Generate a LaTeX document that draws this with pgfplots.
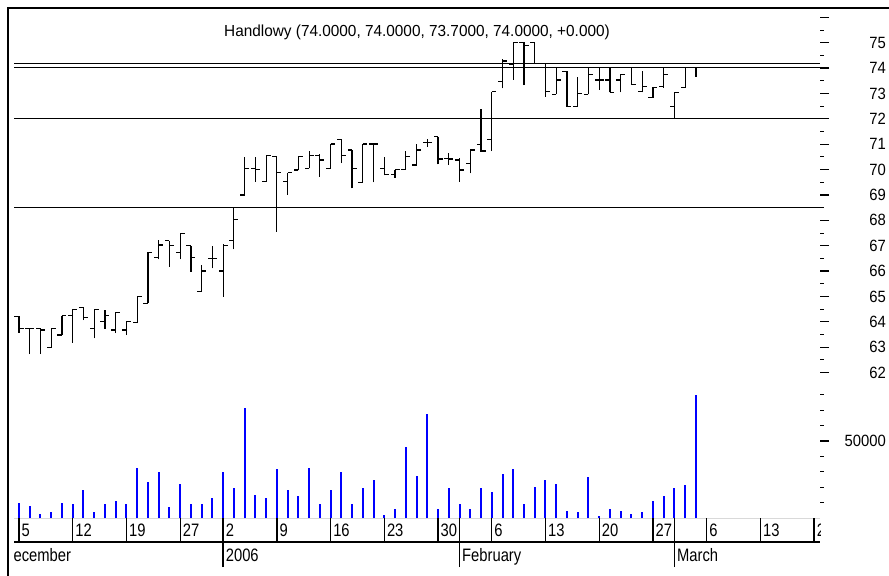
\documentclass[border=0pt]{standalone}
\usepackage{fontspec}
\setmainfont{Liberation Sans}
\newfontfamily\titlefont{Liberation Sans}[FakeStretch=0.96]
\newfontfamily\pricefont{Liberation Sans}[FakeStretch=0.91]
\newfontfamily\datefont{Liberation Sans}[FakeStretch=0.82]
\usepackage{pgfplots}
\pgfplotsset{compat=1.18}
\usepackage{pgfplotstable}

\pgfplotstableread{
i O H L C V
0 64.20 64.23 63.57 63.74 10000
1 63.74 63.74 62.73 63.74 7800
2 63.74 63.74 62.73 63.68 2800
3 62.98 63.74 62.98 63.74 3700
4 63.48 64.24 63.48 64.24 10000
5 64.24 64.50 63.18 64.50 8900
6 64.57 64.57 64.07 64.18 18200
7 63.74 64.50 63.35 64.50 3700
8 64.01 64.47 63.72 64.24 8900
9 63.68 64.37 63.55 64.37 11000
10 63.68 64.03 63.48 64.01 8900
11 63.97 64.99 63.95 64.99 32700
12 64.73 66.76 64.73 66.72 23400
13 66.54 67.22 66.46 67.03 29700
14 67.20 67.20 66.17 67.00 6900
15 66.74 67.49 66.46 67.49 22300
16 67.00 67.00 65.98 66.54 8900
17 65.19 66.24 65.19 66.00 8900
18 66.50 67.00 66.11 66.50 13000
19 66.00 67.07 64.99 67.00 29700
20 67.20 68.54 66.85 68.04 19300
21 69.00 70.51 69.00 70.05 71600
22 70.05 70.51 69.52 70.00 15200
23 69.52 70.55 69.52 70.55 13000
24 70.51 70.51 67.55 69.89 31600
25 69.52 69.88 69.00 69.88 18200
26 69.98 70.51 69.98 70.51 14100
27 70.05 70.73 70.05 70.55 32700
28 70.55 70.60 69.72 70.38 8900
29 70.05 71.01 70.05 71.01 18200
30 71.19 71.19 70.25 70.55 29700
31 70.77 70.77 69.26 70.05 8900
32 69.50 71.01 69.50 71.01 19300
33 71.01 71.01 69.50 71.01 24500
34 70.05 70.51 69.77 69.79 1700
35 69.79 70.00 69.68 70.00 5800
36 70.00 70.73 70.00 70.51 46100
37 70.18 71.01 70.18 70.77 27500
38 71.06 71.20 70.90 71.06 67700
39 71.30 71.30 70.20 70.42 5800
40 70.45 70.65 70.18 70.42 19300
41 70.38 70.44 69.52 69.98 8900
42 70.25 70.77 69.85 70.77 5800
43 70.99 72.39 70.70 70.73 19300
44 71.17 73.07 70.73 73.07 17100
45 73.46 74.36 73.20 74.28 28400
46 74.15 75.01 73.53 75.01 31600
47 75.01 75.01 73.33 74.88 8900
48 75.01 75.01 74.19 74.19 20300
49 74.19 74.19 72.87 73.07 24500
50 72.97 74.06 72.97 73.53 22300
51 73.88 73.88 72.48 72.48 4800
52 72.48 73.66 72.48 73.00 3700
53 72.97 74.02 72.97 73.75 26400
54 73.53 74.02 73.14 73.53 1100
55 73.53 74.02 73.04 73.04 5800
56 73.53 73.75 73.04 73.75 4800
57 74.02 74.02 73.36 73.36 2800
58 73.07 73.88 73.04 73.27 3700
59 72.83 73.27 72.83 73.23 11000
60 73.27 74.02 73.23 73.75 14100
61 72.50 73.04 71.99 73.04 19300
62 73.23 74.02 73.23 74.02 21400
63 74.02 74.02 73.66 74.02 80100
}\ohlc

\newcommand\pf{\pricefont\fontsize{16.3bp}{18bp}\selectfont}
\newcommand\df{\datefont\fontsize{18bp}{20bp}\selectfont}

\begin{document}
\begin{tikzpicture}
\path[use as bounding box] (0,0) rectangle (889bp,-576bp);
\pgfplotsset{
  common/.style={scale only axis, width=806bp, xmin=-0.4653, xmax=74.55},
  rticks/.style={
    hide x axis, axis y line*=right, y axis line style={draw=none},
    tick align=outside, major tick length=9bp, minor tick length=3.5bp,
    major tick style={black, line width=1.2bp},
    minor tick style={black, line width=0.9bp},
    yticklabel style={font=\pf, anchor=east, inner sep=0pt, xshift=57bp},
    scaled y ticks=false},
}
% price panel
\begin{axis}[common, rticks, at={(14bp,-380bp)}, anchor=south west, height=370bp,
  ymin=61.707, ymax=76.288,
  ytick={62,...,76},
  yticklabels={62,63,64,65,66,67,68,69,70,71,72,73,74,75,{}},
  minor ytick={62.5,63.5,...,75.5}]
\addplot[black, line width=1.1bp, mark=none] coordinates {(-0.4653,74.02) (74.55,74.02)};
\addplot[black, line width=1.1bp, mark=none] coordinates {(-0.4653,74.18) (74.55,74.18)};
\addplot[black, line width=1.1bp, mark=none] coordinates {(-0.4653,72.0) (74.55,72.0)};
\addplot[black, line width=1.1bp, mark=none] coordinates {(-0.4653,68.5) (74.55,68.5)};
\addplot[black, line width=1.2bp, mark=none, quiver={u=0, v=\thisrow{H}-\thisrow{L}}] table[x=i, y=L] {\ohlc};
\addplot[black, line width=1.2bp, mark=none, quiver={u=-0.42, v=0}] table[x=i, y=O] {\ohlc};
\addplot[black, line width=1.2bp, mark=none, quiver={u=0.42, v=0}] table[x=i, y=C] {\ohlc};
\end{axis}
% volume panel
\begin{axis}[common, rticks, at={(14bp,-518bp)}, anchor=south west, height=133bp,
  ymin=0, ymax=86364,
  ytick={50000}, yticklabels={50000},
  minor ytick={10000,20000,30000,40000,60000,70000,80000}]
\addplot[black!15, line width=0.8bp, mark=none] coordinates {(-0.4653,0) (74.55,0)};
\addplot[ycomb, blue, line width=2bp, mark=none] table[x=i, y=V] {\ohlc};
\end{axis}
% date rows
\begin{scope}
\clip (14bp,-517bp) rectangle (820bp,-570bp);
\begin{axis}[common, at={(14bp,-542bp)}, anchor=south west, height=24bp,
  ymin=0, ymax=1, hide y axis, axis x line*=bottom,
  x axis line style={black, line width=1.3bp},
  xtick={0,5,10,15,19,24,29,34,39,41,44,49,54,59,61,64,69,74},
  xticklabels={5,12,19,27,2,9,16,23,30,{},6,13,20,27,{},6,13,20},
  tick align=inside, major tick length=24bp,
  major tick style={black, line width=1.3bp},
  xticklabel style={font=\df, anchor=base west, inner sep=0pt, xshift=2.5bp, yshift=5.3bp}]
\addplot[draw=none, mark=none, forget plot] coordinates {(0,0.5)};
\end{axis}
\begin{axis}[common, at={(14bp,-567bp)}, anchor=south west, height=25bp,
  ymin=0, ymax=1, hide y axis, axis x line*=bottom,
  x axis line style={draw=none},
  xtick={19,41,61},
  xticklabels={2006,February,March},
  tick align=inside, major tick length=25bp,
  major tick style={black, line width=1.3bp},
  xticklabel style={font=\df, anchor=base west, inner sep=0pt, xshift=2.5bp, yshift=5.3bp}]
\addplot[draw=none, mark=none, forget plot] coordinates {(0,0.5)};
\end{axis}
\node[font=\df, anchor=base west, inner sep=0pt] at (2.8bp,-561.7bp) {December};
\end{scope}
% title
\node[font=\titlefont\fontsize{16bp}{18bp}\selectfont, anchor=base, inner sep=0pt] at (417bp,-36bp) {Handlowy (74.0000, 74.0000, 73.7000, 74.0000, +0.000)};
% frame
\draw[line width=2bp] (7.5bp,-576bp) -- (7.5bp,-7.5bp) -- (889bp,-7.5bp);
\end{tikzpicture}
\end{document}
